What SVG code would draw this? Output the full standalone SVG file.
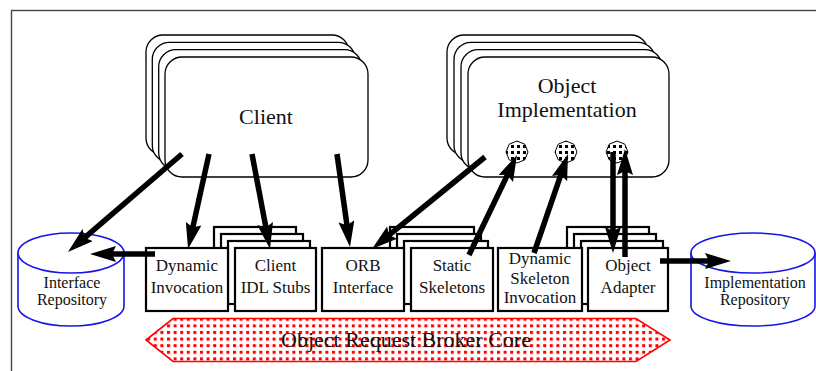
<svg xmlns="http://www.w3.org/2000/svg" width="816" height="371" viewBox="0 0 816 371">
<style>
text{font-family:"Liberation Serif","Times New Roman",serif;fill:#111;text-anchor:middle}
.big{font-size:22px}
.sm{font-size:17px}
.cy{font-size:16px}
.rbox{fill:#fff;stroke:#000;stroke-width:1.3}
.box{fill:#fff;stroke:#000;stroke-width:2.2}
.cyl{fill:#fff;stroke:#1515e8;stroke-width:1.6}
.arr{stroke:#000;stroke-width:5.5;fill:none;marker-end:url(#ah)}
</style>
<defs>
<marker id="ah" markerUnits="userSpaceOnUse" markerWidth="27" markerHeight="17" refX="10" refY="8" orient="auto">
<path d="M0,0 L26,8 L0,16 L4,8 Z" fill="#000"/>
</marker>
<pattern id="dots" patternUnits="userSpaceOnUse" width="6" height="6" x="1" y="1">
<rect width="6" height="6" fill="#fff"/>
<rect x="0" y="0" width="3" height="3" fill="#000"/>
</pattern>
<pattern id="reddots" patternUnits="userSpaceOnUse" width="6.6" height="6.6" x="2" y="1">
<rect width="6.6" height="6.6" fill="#fff"/>
<rect x="0" y="0" width="3" height="3" fill="#f00"/>
</pattern>
</defs>

<rect x="11.5" y="10.5" width="900" height="500" fill="none" stroke="#444" stroke-width="1.4"/>

<g id="client">
<rect class="rbox" x="146" y="35" width="203" height="120" rx="17"/>
<rect class="rbox" x="152.3" y="42.3" width="203" height="120" rx="17"/>
<rect class="rbox" x="158.7" y="49.7" width="203" height="120" rx="17"/>
<rect class="rbox" x="165" y="57" width="203" height="120" rx="17"/>
<text class="big" x="266" y="124">Client</text>
</g>

<g id="object-implementation">
<rect class="rbox" x="447" y="35" width="201" height="120" rx="17"/>
<rect class="rbox" x="454" y="42.3" width="201" height="120" rx="17"/>
<rect class="rbox" x="461" y="49.7" width="201" height="120" rx="17"/>
<rect class="rbox" x="468" y="57" width="201" height="120" rx="17"/>
<text class="big" x="567" y="93">Object</text>
<text class="big" x="567" y="117">Implementation</text>
</g>

<g id="skeleton-ports">
<polygon points="517,141 524.8,144.2 528,152 524.8,159.8 517,163 509.2,159.8 506,152 509.2,144.2" fill="url(#dots)" stroke="#000" stroke-width="1"/>
<polygon points="566,141 573.8,144.2 577,152 573.8,159.8 566,163 558.2,159.8 555,152 558.2,144.2" fill="url(#dots)" stroke="#000" stroke-width="1"/>
<polygon points="617,141 624.8,144.2 628,152 624.8,159.8 617,163 609.2,159.8 606,152 609.2,144.2" fill="url(#dots)" stroke="#000" stroke-width="1"/>
</g>

<g id="interface-repository">
<path class="cyl" d="M18,253 L18,306 A53,20 0 0 0 124,306 L124,253"/>
<ellipse class="cyl" cx="71" cy="253" rx="53" ry="20"/>
<text class="cy" x="72" y="288">Interface</text>
<text class="cy" x="72" y="305">Repository</text>
</g>

<g id="implementation-repository">
<path class="cyl" d="M691,253 L691,306 A62,20 0 0 0 815,306 L815,253"/>
<ellipse class="cyl" cx="753" cy="253" rx="62" ry="20"/>
<text class="cy" x="755" y="288">Implementation</text>
<text class="cy" x="755" y="305">Repository</text>
</g>

<g id="client-idl-stubs">
<rect class="box" x="214" y="227" width="82" height="63"/>
<rect class="box" x="221" y="234" width="82" height="63"/>
<rect class="box" x="228" y="241" width="82" height="63"/>
<rect class="box" x="235" y="248" width="81" height="63"/>
<text class="sm" x="275.5" y="271">Client</text>
<text class="sm" x="275.5" y="293">IDL Stubs</text>
</g>

<g id="static-skeletons">
<rect class="box" x="390" y="227" width="84" height="63"/>
<rect class="box" x="397" y="234" width="84" height="63"/>
<rect class="box" x="404" y="241" width="84" height="63"/>
<rect class="box" x="411" y="248" width="82" height="63"/>
<text class="sm" x="452" y="271">Static</text>
<text class="sm" x="452" y="293">Skeletons</text>
</g>

<g id="object-adapter">
<rect class="box" x="567" y="227" width="82" height="63"/>
<rect class="box" x="574" y="234" width="82" height="63"/>
<rect class="box" x="581" y="241" width="82" height="63"/>
<rect class="box" x="588" y="248" width="80" height="63"/>
<text class="sm" x="628" y="271">Object</text>
<text class="sm" x="628" y="293">Adapter</text>
</g>

<g id="dynamic-invocation">
<rect class="box" x="146" y="248" width="82" height="63"/>
<text class="sm" x="187" y="271">Dynamic</text>
<text class="sm" x="187" y="293">Invocation</text>
</g>

<g id="orb-interface">
<rect class="box" x="322" y="248" width="82" height="63"/>
<text class="sm" x="363" y="271">ORB</text>
<text class="sm" x="363" y="293">Interface</text>
</g>

<g id="dynamic-skeleton-invocation">
<rect class="box" x="498" y="248" width="84" height="63"/>
<text class="sm" x="540" y="264">Dynamic</text>
<text class="sm" x="540" y="284">Skeleton</text>
<text class="sm" x="540" y="303">Invocation</text>
</g>

<g id="orb-core">
<polygon points="146,340 173,318.5 636,318.5 670,340 636,361.5 173,361.5" fill="url(#reddots)" stroke="#f00" stroke-width="1.6"/>
<text class="big" x="406" y="347">Object Request Broker Core</text>
</g>

<g id="connectors">
<line class="arr" x1="182" y1="154" x2="80.1" y2="241.6"/>
<line class="arr" x1="209" y1="154" x2="191.5" y2="233.4"/>
<line class="arr" x1="252" y1="154" x2="267" y2="233.3"/>
<line class="arr" x1="337" y1="154" x2="347.8" y2="231.2"/>
<line class="arr" x1="485" y1="157" x2="384.4" y2="238.9"/>
<line class="arr" x1="469" y1="255" x2="510.1" y2="169.4"/>
<line class="arr" x1="534" y1="253" x2="562.8" y2="169.1"/>
<line class="arr" x1="613" y1="152" x2="613" y2="237"/>
<line class="arr" x1="625" y1="257" x2="625" y2="165"/>
<line class="arr" x1="155" y1="254" x2="106" y2="254"/>
<line class="arr" x1="660" y1="261" x2="715" y2="261"/>
</g>
</svg>
